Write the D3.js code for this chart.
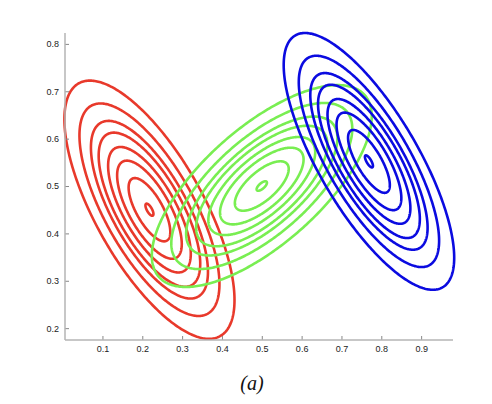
<!DOCTYPE html>
<html>
<head>
<meta charset="utf-8">
<script src="https://cdn.jsdelivr.net/npm/d3@7"></script>
<style>
  html, body { margin: 0; padding: 0; background: #fff; }
  svg { display: block; }
</style>
</head>
<body>
<svg id="chart" width="492" height="404"></svg>
<script>
// ---- data ----
const components = ["red", "green", "blue"];
const centersX = [0.218, 0.500, 0.769];
const centersY = [0.450, 0.500, 0.552];
const sigmaX   = [0.2135, 0.276, 0.214];   // half-width of outermost contour
const sigmaY   = [0.2725, 0.213, 0.271];   // half-height of outermost contour
const rhos     = [-0.70, 0.69, -0.75];
const levels   = [0.047, 0.245, 0.38, 0.486, 0.597, 0.688, 0.823, 1.0];
const colors   = ["#e8392b", "#79ee52", "#0b0be0"];
const xTicks = [0.1, 0.2, 0.3, 0.4, 0.5, 0.6, 0.7, 0.8, 0.9];
const yTicks = [0.2, 0.3, 0.4, 0.5, 0.6, 0.7, 0.8];
const caption = "(a)";

// ---- layout ----
const svg = d3.select("#chart");
const mLeft = 65, mRight = 453, mTop = 33, mBottom = 340;
const x = d3.scaleLinear().domain([0.006, 0.98]).range([mLeft, mRight]);
const y = d3.scaleLinear().domain([0.175, 0.823]).range([mBottom, mTop]);

const line = d3.line().x(d => x(d[0])).y(d => y(d[1])).curve(d3.curveLinearClosed);
const angles = d3.range(0, 2 * Math.PI, Math.PI / 180);

components.forEach((c, i) => {
  const g = svg.append("g").attr("class", "comp-" + c);
  levels.forEach(r => {
    const pts = angles.map(t => {
      const px = centersX[i] + r * sigmaX[i] * Math.cos(t);
      const py = centersY[i] + r * sigmaY[i] *
        (rhos[i] * Math.cos(t) + Math.sqrt(1 - rhos[i] * rhos[i]) * Math.sin(t));
      return [px, py];
    });
    g.append("path")
      .attr("d", line(pts))
      .attr("fill", "none")
      .attr("stroke", colors[i])
      .attr("stroke-width", 2.6);
  });
});

// ---- axes ----
const axisColor = "#b4b4b4";
const xAxis = d3.axisBottom(x).tickValues(xTicks).tickSize(-4).tickPadding(6)
  .tickFormat(d3.format(".1f"));
const yAxis = d3.axisLeft(y).tickValues(yTicks).tickSize(-4).tickPadding(6)
  .tickFormat(d3.format(".1f"));

const gx = svg.append("g").attr("transform", `translate(0,${mBottom})`).call(xAxis);
const gy = svg.append("g").attr("transform", `translate(${mLeft},0)`).call(yAxis);
[gx, gy].forEach(g => {
  g.select(".domain").remove();
  g.selectAll(".tick line").attr("stroke", "#888").attr("stroke-width", 1);
  g.selectAll(".tick text").attr("fill", "#222")
    .style("font-family", "'Liberation Sans', Arial, sans-serif")
    .style("font-size", "9px");
});
svg.append("line").attr("x1", mLeft).attr("x2", mRight).attr("y1", mBottom).attr("y2", mBottom)
  .attr("stroke", axisColor).attr("stroke-width", 1.5);
svg.append("line").attr("x1", mLeft).attr("x2", mLeft).attr("y1", mTop).attr("y2", mBottom)
  .attr("stroke", axisColor).attr("stroke-width", 1.5);

// ---- caption ----
svg.append("text")
  .attr("x", 252).attr("y", 390)
  .attr("text-anchor", "middle")
  .style("font-family", "'Liberation Serif', 'DejaVu Serif', serif")
  .style("font-style", "italic")
  .style("font-size", "20px")
  .attr("fill", "#111")
  .text(caption);
</script>
</body>
</html>
